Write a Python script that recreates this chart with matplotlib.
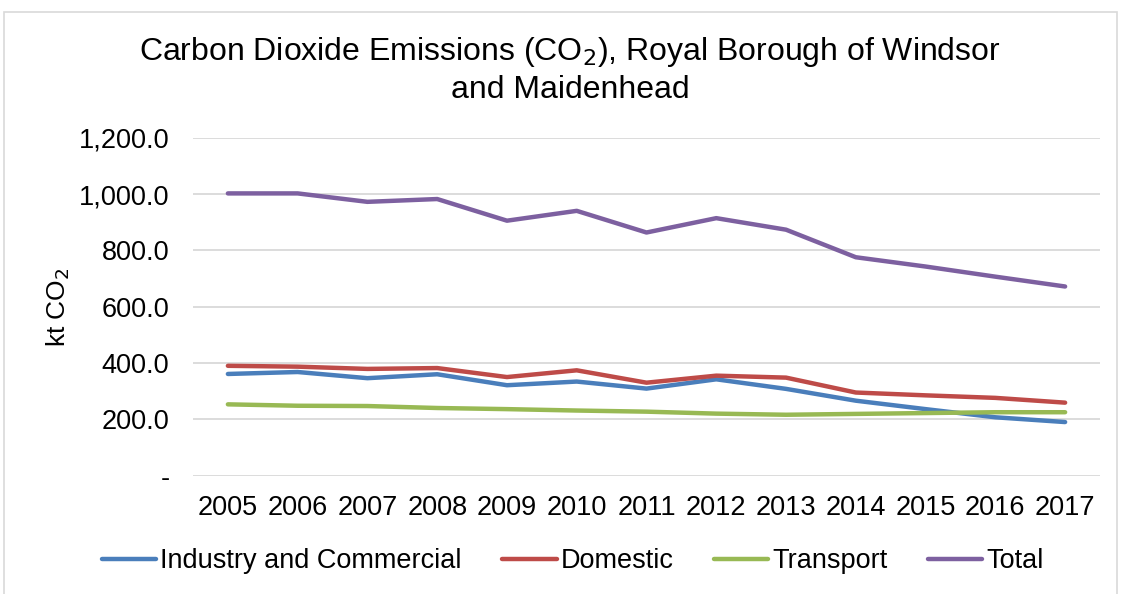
import matplotlib.pyplot as plt
from matplotlib.patches import Rectangle
from matplotlib.ticker import FuncFormatter

plt.rcParams['font.family'] = ['Liberation Sans', 'DejaVu Sans']

years = ['2005', '2006', '2007', '2008', '2009', '2010', '2011',
         '2012', '2013', '2014', '2015', '2016', '2017']
industry = [361, 368, 346, 360, 321, 334, 309, 342, 308, 266, 236, 207, 190]
domestic = [390, 387, 379, 382, 350, 374, 330, 355, 348, 295, 285, 276, 259]
transport = [253, 248, 247, 240, 236, 231, 227, 220, 216, 219, 222, 225, 225]
total = [1003, 1003, 973, 983, 906, 941, 864, 915, 874, 776, 743, 707, 672]

series = [
    ('Industry and Commercial', industry, '#4A7EBB'),
    ('Domestic', domestic, '#BE4B48'),
    ('Transport', transport, '#98B954'),
    ('Total', total, '#7D60A0'),
]

fig = plt.figure(figsize=(11.22, 5.94), dpi=100)
ax = fig.add_axes([193 / 1122, 1 - 475.5 / 594, 907 / 1122, 337.5 / 594])

x = list(range(len(years)))
for name, vals, col in series:
    ax.plot(x, vals, color=col, linewidth=3.2, label=name, solid_capstyle='round')

ax.set_xlim(-0.5, len(years) - 0.5)
ax.set_ylim(0, 1200)
ax.set_yticks(range(0, 1201, 200))
ax.yaxis.set_major_formatter(FuncFormatter(lambda v, p: '-' if v == 0 else f'{v:,.1f}'))
ax.set_xticks(x)
ax.set_xticklabels(years)
ax.tick_params(axis='both', length=0, labelsize=19.5)
ax.tick_params(axis='x', pad=14)
ax.tick_params(axis='y', pad=17)
ax.grid(axis='y', color='#D9D9D9', linewidth=1.3)
ax.set_axisbelow(True)
for s in ax.spines.values():
    s.set_visible(False)

ax.set_ylabel('kt CO$_2$', fontsize=19)
ax.yaxis.set_label_coords(-0.1334, 0.5)

fig.text(570 / 1122, 1 - 70 / 594,
         'Carbon Dioxide Emissions (CO$_2$), Royal Borough of Windsor\nand Maidenhead',
         ha='center', va='center', fontsize=23, linespacing=1.22)

fig.legend(loc='center', bbox_to_anchor=(573 / 1122, 1 - 561 / 594), ncol=4,
           frameon=False, fontsize=19.5, handlelength=2.0, handletextpad=0.15,
           columnspacing=1.5)

fig.patches.append(Rectangle((4 / 1122, -0.01), 1113 / 1122, 1 - 12 / 594 + 0.01,
                             transform=fig.transFigure, fill=False,
                             edgecolor='#D9D9D9', linewidth=1.2))

fig.savefig('out.png', dpi=100)
